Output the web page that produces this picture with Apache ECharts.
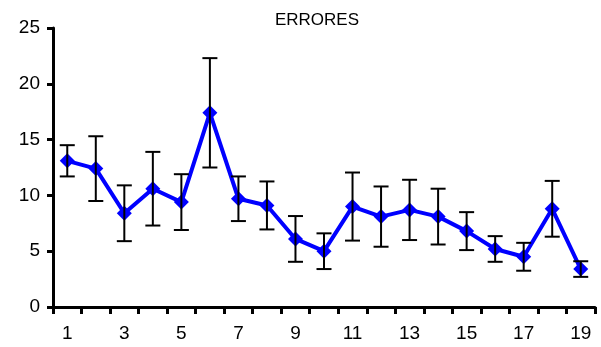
<!DOCTYPE html>
<html><head><meta charset="utf-8">
<script src="https://cdn.jsdelivr.net/npm/echarts@6/dist/echarts.min.js"></script>
<style>html,body{margin:0;padding:0;background:#fff}#c{width:601px;height:347px}</style>
</head><body><div id="c"></div>
<script>
var categories = ['1','2','3','4','5','6','7','8','9','10','11','12','13','14','15','16','17','18','19'];
var means = [13.1, 12.4, 8.4, 10.6, 9.4, 17.4, 9.7, 9.1, 6.1, 5.0, 9.0, 8.1, 8.7, 8.1, 6.8, 5.2, 4.5, 8.8, 3.4];
var errors = [1.4, 2.9, 2.5, 3.3, 2.5, 4.9, 2.0, 2.15, 2.05, 1.6, 3.05, 2.7, 2.7, 2.5, 1.7, 1.15, 1.25, 2.5, 0.7];
var yTicks = [0, 5, 10, 15, 20, 25];
var title = 'ERRORES';

var errData = means.map(function(m, i){ return [i, m - errors[i], m + errors[i]]; });
var font = '"Liberation Sans", Arial, sans-serif';
var chart = echarts.init(document.getElementById('c'), null, {renderer:'canvas'});
chart.setOption({
  animation: false,
  title: {text: title, left: 312, top: 7, textAlign: 'center',
    textStyle: {fontFamily: font, fontSize: 17, fontWeight: 'normal', color: '#000'}},
  grid: {left: 53, right: 6, top: 28, bottom: 40, containLabel: false},
  xAxis: {type: 'category', data: categories, boundaryGap: true,
    axisLine: {lineStyle: {color: '#000', width: 3}},
    axisTick: {show: true, interval: 0, length: 7, lineStyle: {color: '#000', width: 3}},
    axisLabel: {interval: 1, margin: 17, fontFamily: font, fontSize: 19, color: '#000'},
    splitLine: {show: false}},
  yAxis: {type: 'value', min: yTicks[0], max: yTicks[yTicks.length-1], interval: 5,
    axisLine: {show: true, lineStyle: {color: '#000', width: 3}},
    axisTick: {show: true, length: 6, lineStyle: {color: '#000', width: 3}},
    axisLabel: {margin: 13, fontFamily: font, fontSize: 19, color: '#000'},
    splitLine: {show: false}},
  series: [
    {type: 'line', data: means, z: 2,
     lineStyle: {color: '#0000FF', width: 4},
     itemStyle: {color: '#0000FF'},
     symbol: 'diamond', symbolSize: 15, showSymbol: true},
    {type: 'custom', z: 5, data: errData,
     renderItem: function(params, api){
       var x = api.value(0);
       var lo = api.coord([x, api.value(1)]);
       var hi = api.coord([x, api.value(2)]);
       var hw = 7.5;
       var st = {stroke: '#000', lineWidth: 2};
       return {type: 'group', children: [
         {type: 'line', shape: {x1: lo[0], y1: lo[1], x2: hi[0], y2: hi[1]}, style: st},
         {type: 'line', shape: {x1: lo[0]-hw, y1: lo[1], x2: lo[0]+hw, y2: lo[1]}, style: st},
         {type: 'line', shape: {x1: hi[0]-hw, y1: hi[1], x2: hi[0]+hw, y2: hi[1]}, style: st}
       ]};
     }}
  ]
});
</script></body></html>
